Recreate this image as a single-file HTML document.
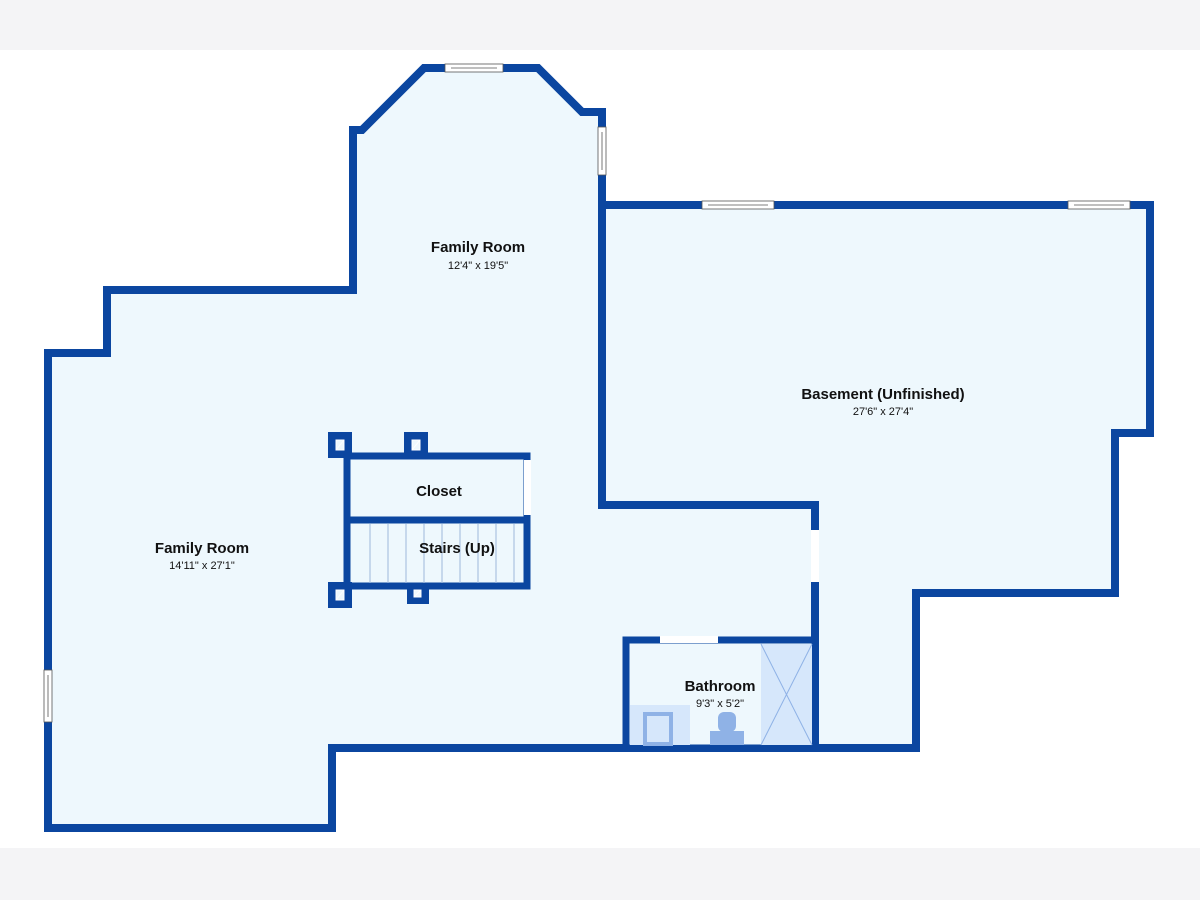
<!DOCTYPE html>
<html><head><meta charset="utf-8"><style>
html,body{margin:0;padding:0;background:#fff}
body{width:1200px;height:900px;position:relative;overflow:hidden;font-family:"Liberation Sans",sans-serif}
.band{position:absolute;left:0;width:1200px;background:#f4f4f6}
</style></head><body>
<div class="band" style="top:0;height:50px"></div>
<div class="band" style="top:848px;height:52px"></div>
<svg width="1200" height="900" style="position:absolute;left:0;top:0" xmlns="http://www.w3.org/2000/svg">
<g fill="#eef8fd" stroke="#0b46a0" stroke-width="8" stroke-linejoin="miter">
<polygon points="48,828 48,353 107,353 107,290 353,290 353,130 362,130 424,68 538,68 582,112 602,112 602,505 815,505 815,748 332,748 332,828"/>
<polygon points="602,205 1150,205 1150,433 1115,433 1115,593 916,593 916,748 815,748 815,505 602,505"/>
</g>
<rect x="347" y="456" width="180" height="64" fill="#eef8fd" stroke="#0b46a0" stroke-width="7"/>
<rect x="347" y="520" width="180" height="66" fill="#eef8fd" stroke="#0b46a0" stroke-width="7"/>
<g stroke="#9fb8dc" stroke-width="1">
<line x1="370" y1="524" x2="370" y2="583"/><line x1="388" y1="524" x2="388" y2="583"/><line x1="406" y1="524" x2="406" y2="583"/><line x1="424" y1="524" x2="424" y2="583"/><line x1="442" y1="524" x2="442" y2="583"/><line x1="460" y1="524" x2="460" y2="583"/><line x1="478" y1="524" x2="478" y2="583"/><line x1="496" y1="524" x2="496" y2="583"/><line x1="514" y1="524" x2="514" y2="583"/>
</g>
<rect x="524" y="460" width="7" height="55" fill="#fff"/>
<g fill="#0b46a0">
<rect x="328" y="432" width="24" height="26"/><rect x="404" y="432" width="24" height="26"/>
<rect x="328" y="582" width="24" height="26"/><rect x="407" y="584" width="22" height="20"/>
</g>
<g fill="#eef8fd" stroke="#fff" stroke-width="1">
<rect x="336" y="440" width="8" height="10"/><rect x="412" y="440" width="8" height="10"/>
<rect x="336" y="590" width="8" height="10"/><rect x="414" y="590" width="7" height="7"/>
</g>
<g stroke="#fff" stroke-width="1"><line x1="336" y1="450" x2="344" y2="440"/><line x1="412" y1="450" x2="420" y2="440"/><line x1="336" y1="600" x2="344" y2="590"/><line x1="414" y1="597" x2="421" y2="590"/></g>
<rect x="626" y="640" width="189" height="108" fill="#eef8fd" stroke="#0b46a0" stroke-width="7"/>
<rect x="761" y="644" width="51" height="101" fill="#d6e7fb"/>
<g stroke="#8fb2e6" stroke-width="1"><line x1="761" y1="644" x2="812" y2="745"/><line x1="812" y1="644" x2="761" y2="745"/></g>
<rect x="630" y="705" width="60" height="40" fill="#d6e7fb"/>
<rect x="645" y="714" width="26" height="30" fill="none" stroke="#8fb2e6" stroke-width="4"/>
<rect x="710" y="731" width="34" height="14" fill="#8fb2e6"/>
<rect x="718" y="712" width="18" height="20" rx="6" fill="#8fb2e6"/>
<rect x="660" y="636" width="58" height="7" fill="#fff"/>
<rect x="811" y="530" width="8" height="52" fill="#fff"/>
<g fill="#fff" stroke="#555" stroke-width="0.8">
<rect x="445" y="64" width="58" height="8"/><line x1="451" y1="68" x2="497" y2="68"/>
<rect x="598" y="127" width="8" height="48"/><line x1="602" y1="132" x2="602" y2="170"/>
<rect x="702" y="201" width="72" height="8"/><line x1="708" y1="205" x2="768" y2="205"/>
<rect x="1068" y="201" width="62" height="8"/><line x1="1074" y1="205" x2="1124" y2="205"/>
<rect x="44" y="670" width="8" height="52"/><line x1="48" y1="675" x2="48" y2="717"/>
</g>
<g font-family="Liberation Sans, sans-serif" text-anchor="middle" fill="#111">
<text x="478" y="252" font-size="15" font-weight="bold">Family Room</text>
<text x="478" y="269" font-size="11">12'4" x 19'5"</text>
<text x="202" y="553" font-size="15" font-weight="bold">Family Room</text>
<text x="202" y="569" font-size="11">14'11" x 27'1"</text>
<text x="883" y="399" font-size="15" font-weight="bold">Basement (Unfinished)</text>
<text x="883" y="415" font-size="11">27'6" x 27'4"</text>
<text x="439" y="496" font-size="15" font-weight="bold">Closet</text>
<text x="457" y="553" font-size="15" font-weight="bold">Stairs (Up)</text>
<text x="720" y="691" font-size="15" font-weight="bold">Bathroom</text>
<text x="720" y="707" font-size="11">9'3" x 5'2"</text>
</g>
</svg>
</body></html>
